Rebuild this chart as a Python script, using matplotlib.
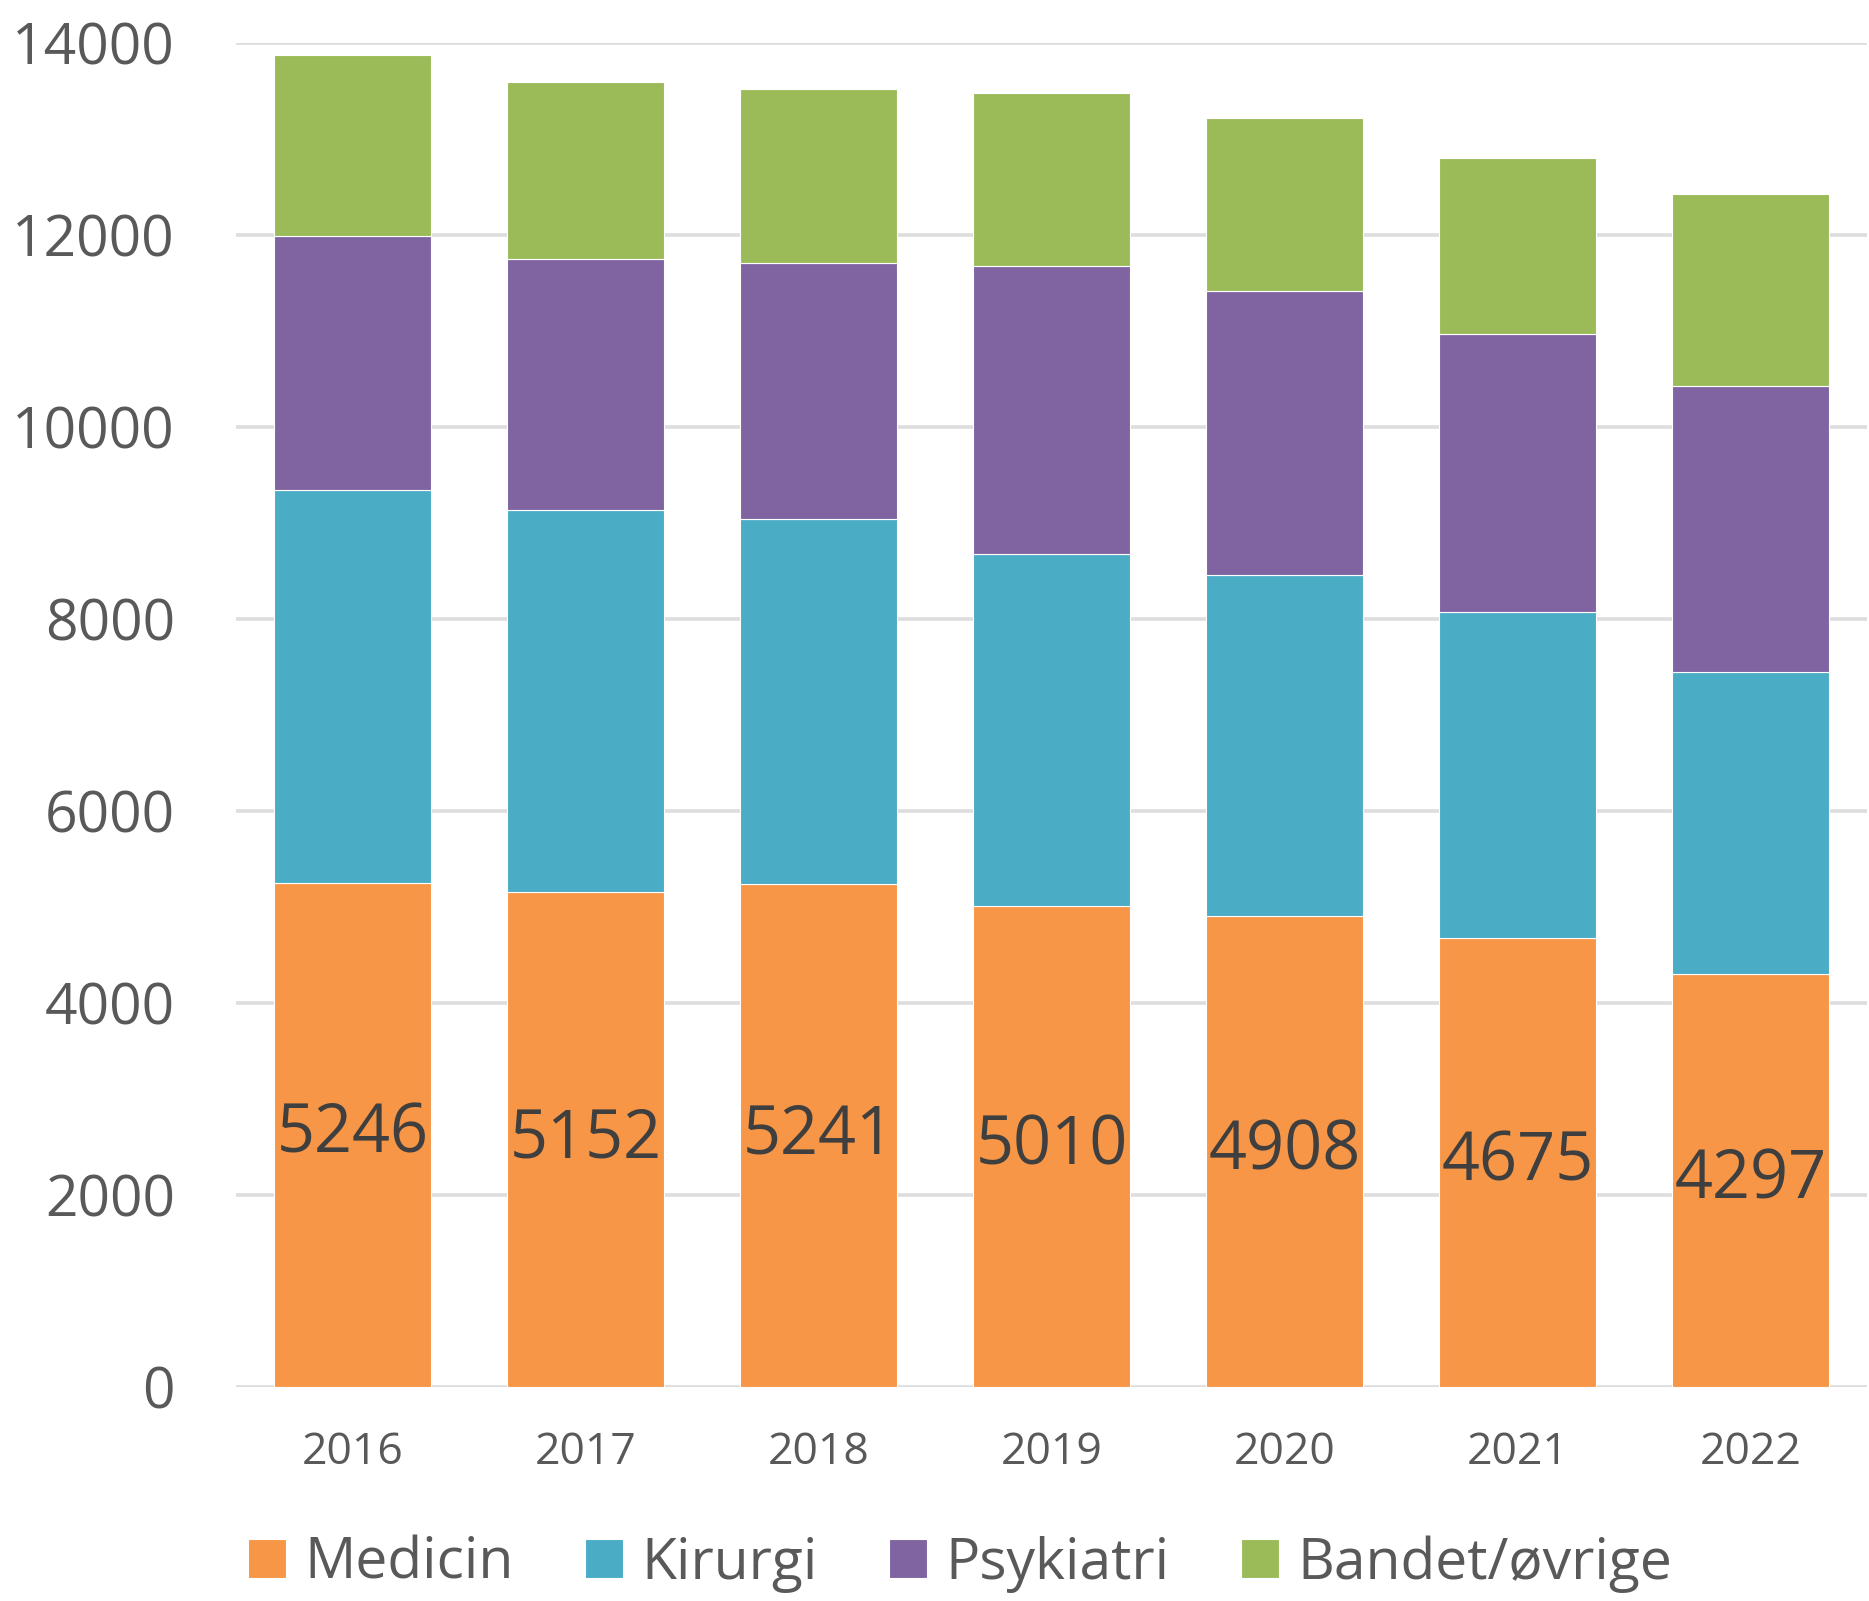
import matplotlib
matplotlib.use("Agg")
import matplotlib.pyplot as plt
import numpy as np

years = ["2016", "2017", "2018", "2019", "2020", "2021", "2022"]
medicin = [5246, 5152, 5241, 5010, 4908, 4675, 4297]
kirurgi = [4096, 3982, 3802, 3672, 3548, 3401, 3147]
psykiatri = [2648, 2612, 2667, 2991, 2964, 2893, 2982]
bandet = [1889, 1843, 1816, 1808, 1799, 1834, 1998]
series_names = ["Medicin", "Kirurgi", "Psykiatri", "Bandet/øvrige"]
colors = ["#F79646", "#4BACC6", "#8064A2", "#9BBB59"]
yticks = [0, 2000, 4000, 6000, 8000, 10000, 12000, 14000]

plt.rcParams['font.family'] = ['Open Sans', 'DejaVu Sans']

fig = plt.figure(figsize=(18.69, 16.01), dpi=100)
ax = fig.add_axes([236/1869, 1 - 1387/1601, (1867-236)/1869, (1387-43)/1601])

x = np.arange(len(years))
width = 0.674
bottom = np.zeros(len(years))
bars = []
for vals, name, c in zip([medicin, kirurgi, psykiatri, bandet], series_names, colors):
    b = ax.bar(x, vals, width, bottom=bottom, color=c, label=name,
               edgecolor="white", linewidth=0.8, zorder=3)
    bars.append(b)
    bottom += np.array(vals)

for xi, v in zip(x, medicin):
    ax.text(xi, v / 2, str(v), ha="center", va="center", fontsize=48,
            color="#3F3F3F", zorder=4)

ax.set_xlim(-0.5, 6.5)
ax.set_ylim(0, 14000)
ax.set_yticks(yticks)
ax.set_yticklabels([str(t) for t in yticks])
ax.set_xticks(x)
ax.set_xticklabels(years)
ax.tick_params(axis="y", length=0, pad=44, labelsize=41, labelcolor="#595959")
ax.tick_params(axis="x", length=0, pad=31, labelsize=32, labelcolor="#595959")
ax.grid(axis="y", color="#DDDDDD", linewidth=2.6, zorder=0)
ax.set_axisbelow(True)
for s in ax.spines.values():
    s.set_visible(False)

leg = fig.legend(handles=bars, labels=series_names, loc="center",
                 bbox_to_anchor=(960/1869, 1 - 1564/1601), ncol=4, frameon=False,
                 fontsize=41, handlelength=0.67, handleheight=0.67,
                 handletextpad=0.32, columnspacing=1.25, borderaxespad=0)
for t in leg.get_texts():
    t.set_color("#595959")

fig.savefig("out.png", dpi=100)
